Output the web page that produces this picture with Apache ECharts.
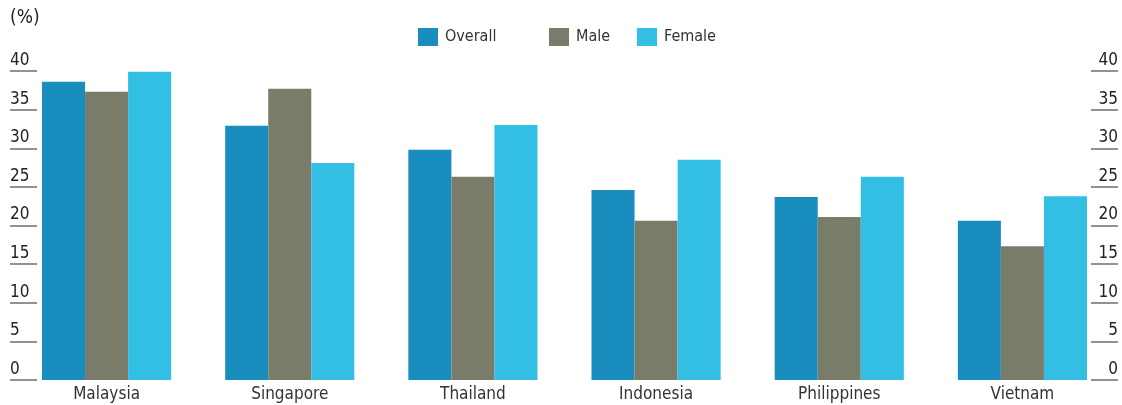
<!DOCTYPE html>
<html>
<head>
<meta charset="utf-8">
<script src="https://cdn.jsdelivr.net/npm/echarts@6/dist/echarts.min.js"></script>
<style>html,body{margin:0;padding:0;background:#fff}#c{width:1122px;height:405px}</style>
</head>
<body>
<div id="c"></div>
<script>
const categories = ['Malaysia', 'Singapore', 'Thailand', 'Indonesia', 'Philippines', 'Vietnam'];
const overall = [38.6, 32.9, 29.8, 24.6, 23.7, 20.6];
const male = [37.3, 37.7, 26.3, 20.6, 21.1, 17.3];
const female = [39.9, 28.1, 33.0, 28.5, 26.3, 23.8];
const yMin = 0, yMax = 40, yStep = 5;
const unitLabel = '(%)';

const FONT = '"DejaVu Sans Condensed", "DejaVu Sans", sans-serif';
const colors = { Overall: '#1a8dbf', Male: '#7a7c6a', Female: '#33bee4' };

const chart = echarts.init(document.getElementById('c'), null, { renderer: 'canvas' });

function tickAxis(gridIndex, position) {
  return {
    type: 'value', gridIndex, position, min: yMin, max: yMax, interval: yStep,
    axisLine: { show: false }, axisTick: { show: false },
    splitLine: { show: true, lineStyle: { color: '#6e6e6e', width: 1.5 } },
    axisLabel: {
      inside: true, margin: 0, verticalAlign: 'bottom', padding: [0, 0, 2, 0],
      fontFamily: FONT, fontSize: 17, color: '#222'
    }
  };
}

function legendAt(name, left) {
  return {
    data: [name], left, top: 23, itemWidth: 20, itemHeight: 18, itemGap: 0,
    icon: 'rect',
    textStyle: { fontFamily: FONT, fontSize: 16, color: '#333', padding: [0, 0, 0, 2] },
    selectedMode: false
  };
}

chart.setOption({
  animation: false,
  textStyle: { fontFamily: FONT },
  title: {
    text: unitLabel, left: 5, top: 4,
    textStyle: { fontFamily: FONT, fontSize: 19, fontWeight: 'normal', color: '#222' }
  },
  legend: [legendAt('Overall', 413), legendAt('Male', 544), legendAt('Female', 632)],
  grid: [
    { left: 15, width: 1099, top: 71, height: 309 },
    { left: 10, width: 27, top: 71, height: 309 },
    { left: 1091, width: 27, top: 71, height: 309 }
  ],
  xAxis: [
    {
      type: 'category', gridIndex: 0, data: categories,
      axisLine: { show: false }, axisTick: { show: false },
      axisLabel: { fontFamily: FONT, fontSize: 17, color: '#333', margin: 6 }
    },
    { type: 'value', gridIndex: 1, show: false },
    { type: 'value', gridIndex: 2, show: false }
  ],
  yAxis: [
    { type: 'value', gridIndex: 0, min: yMin, max: yMax, interval: yStep, show: false },
    tickAxis(1, 'left'),
    tickAxis(2, 'right')
  ],
  series: [
    { name: 'Overall', type: 'bar', data: overall, itemStyle: { color: colors.Overall }, barGap: '0%', barCategoryGap: '29.5%' },
    { name: 'Male', type: 'bar', data: male, itemStyle: { color: colors.Male }, barGap: '0%', barCategoryGap: '29.5%' },
    { name: 'Female', type: 'bar', data: female, itemStyle: { color: colors.Female }, barGap: '0%', barCategoryGap: '29.5%' }
  ]
});
</script>
</body>
</html>
